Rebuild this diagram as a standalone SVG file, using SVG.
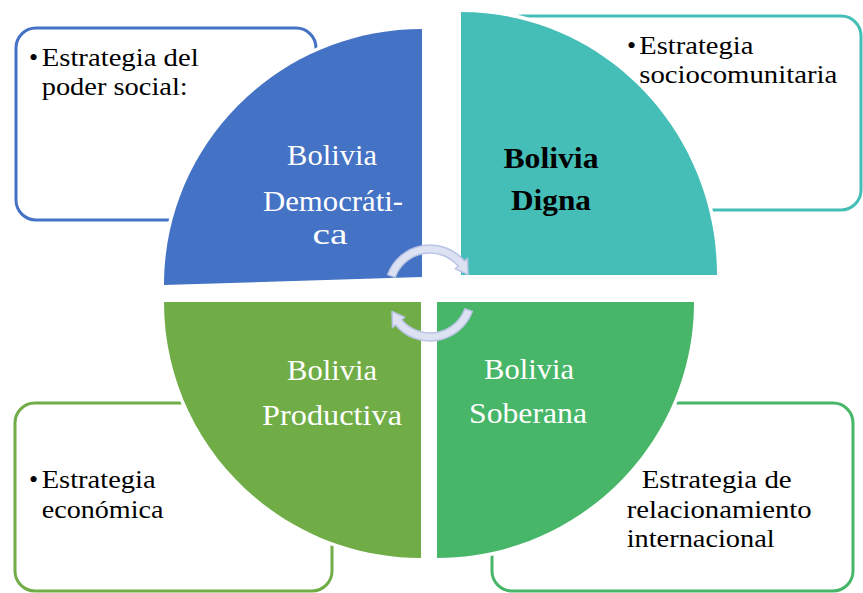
<svg xmlns="http://www.w3.org/2000/svg" width="863" height="593" viewBox="0 0 863 593">
<defs>
<style>
.box{fill:#fff;stroke-width:3}
.q{stroke:#fff;stroke-width:7;paint-order:stroke fill}
.t{font-size:26px;fill:#000}
.lbl{font-size:30px;fill:#fff;text-anchor:middle}
.arr{fill:#DDE2F3;stroke:#B9C3E4;stroke-width:1.5;stroke-linejoin:round}
</style>
</defs>
<rect width="863" height="593" fill="#fff"/>
<g font-family="Liberation Serif, Times New Roman, serif">
<g id="box-democratica">
<rect class="box" x="16" y="28" width="300" height="192" rx="20" stroke="#4472C4"/>
<text class="t" x="29" y="66">•</text>
<text class="t" x="41.7" y="66" textLength="157" lengthAdjust="spacingAndGlyphs">Estrategia del</text>
<text class="t" x="41.7" y="95" textLength="146" lengthAdjust="spacingAndGlyphs">poder social:</text>
</g>
<g id="box-digna">
<rect class="box" x="502" y="16" width="359" height="194" rx="20" stroke="#45BEB8"/>
<text class="t" x="627" y="54.3">•</text>
<text class="t" x="639.3" y="54.3" textLength="114" lengthAdjust="spacingAndGlyphs">Estrategia</text>
<text class="t" x="639.3" y="83" textLength="198" lengthAdjust="spacingAndGlyphs">sociocomunitaria</text>
</g>
<g id="box-productiva">
<rect class="box" x="15" y="403" width="317" height="188" rx="20" stroke="#70AD47"/>
<text class="t" x="29" y="487.7">•</text>
<text class="t" x="41.7" y="487.7" textLength="114" lengthAdjust="spacingAndGlyphs">Estrategia</text>
<text class="t" x="41.7" y="517.7" textLength="121.7" lengthAdjust="spacingAndGlyphs">económica</text>
</g>
<g id="box-soberana">
<rect class="box" x="492" y="403" width="361" height="188" rx="20" stroke="#47B668"/>
<text class="t" x="641.7" y="487.7" textLength="150" lengthAdjust="spacingAndGlyphs">Estrategia de</text>
<text class="t" x="626.7" y="517.7" textLength="185" lengthAdjust="spacingAndGlyphs">relacionamiento</text>
<text class="t" x="626.7" y="546.7" textLength="148" lengthAdjust="spacingAndGlyphs">internacional</text>
</g>
<g id="q-democratica">
<path class="q" fill="#4472C4" d="M422,277 L422,29 C279.5,29 164,143.6 164,285 Z"/>
<text class="lbl" x="332" y="165" textLength="90" lengthAdjust="spacingAndGlyphs">Bolivia</text>
<text class="lbl" x="333" y="210.5" textLength="140" lengthAdjust="spacingAndGlyphs">Democráti-</text>
<text class="lbl" x="330" y="243.5" textLength="35" lengthAdjust="spacingAndGlyphs">ca</text>
</g>
<g id="q-digna">
<path class="q" fill="#45BEB8" d="M461,275 L461,12 C602.4,12 717,129.7 717,275 Z"/>
<text class="lbl" x="551" y="168.3" font-weight="bold" style="fill:#000" textLength="95" lengthAdjust="spacingAndGlyphs">Bolivia</text>
<text class="lbl" x="551" y="210" font-weight="bold" style="fill:#000" textLength="80" lengthAdjust="spacingAndGlyphs">Digna</text>
</g>
<g id="q-productiva">
<path class="q" fill="#70AD47" d="M421,302 L164,302 C164,443.4 279.1,558 421,558 Z"/>
<text class="lbl" x="332" y="380" textLength="90" lengthAdjust="spacingAndGlyphs">Bolivia</text>
<text class="lbl" x="332" y="425" textLength="140" lengthAdjust="spacingAndGlyphs">Productiva</text>
</g>
<g id="q-soberana">
<path class="q" fill="#47B668" d="M437,302 L694,302 C694,443.4 578.4,558 437,558 Z"/>
<text class="lbl" x="529" y="379" textLength="90" lengthAdjust="spacingAndGlyphs">Bolivia</text>
<text class="lbl" x="528" y="423.3" textLength="118" lengthAdjust="spacingAndGlyphs">Soberana</text>
</g>
</g>
<g id="connectors">
<path class="arr" d="M387.7,274.6 A45,45 0 0 1 464.5,261.1 L467.5,258.5 L468,274.6 L455.3,268.8 L458.3,266.2 A37,37 0 0 0 395.2,277.3 Z"/>
<path class="arr" d="M472.3,311.4 A45,45 0 0 1 395.5,324.9 L392.5,327.5 L392,311.4 L404.7,317.2 L401.7,319.8 A37,37 0 0 0 464.8,308.7 Z"/>
</g>
</svg>
